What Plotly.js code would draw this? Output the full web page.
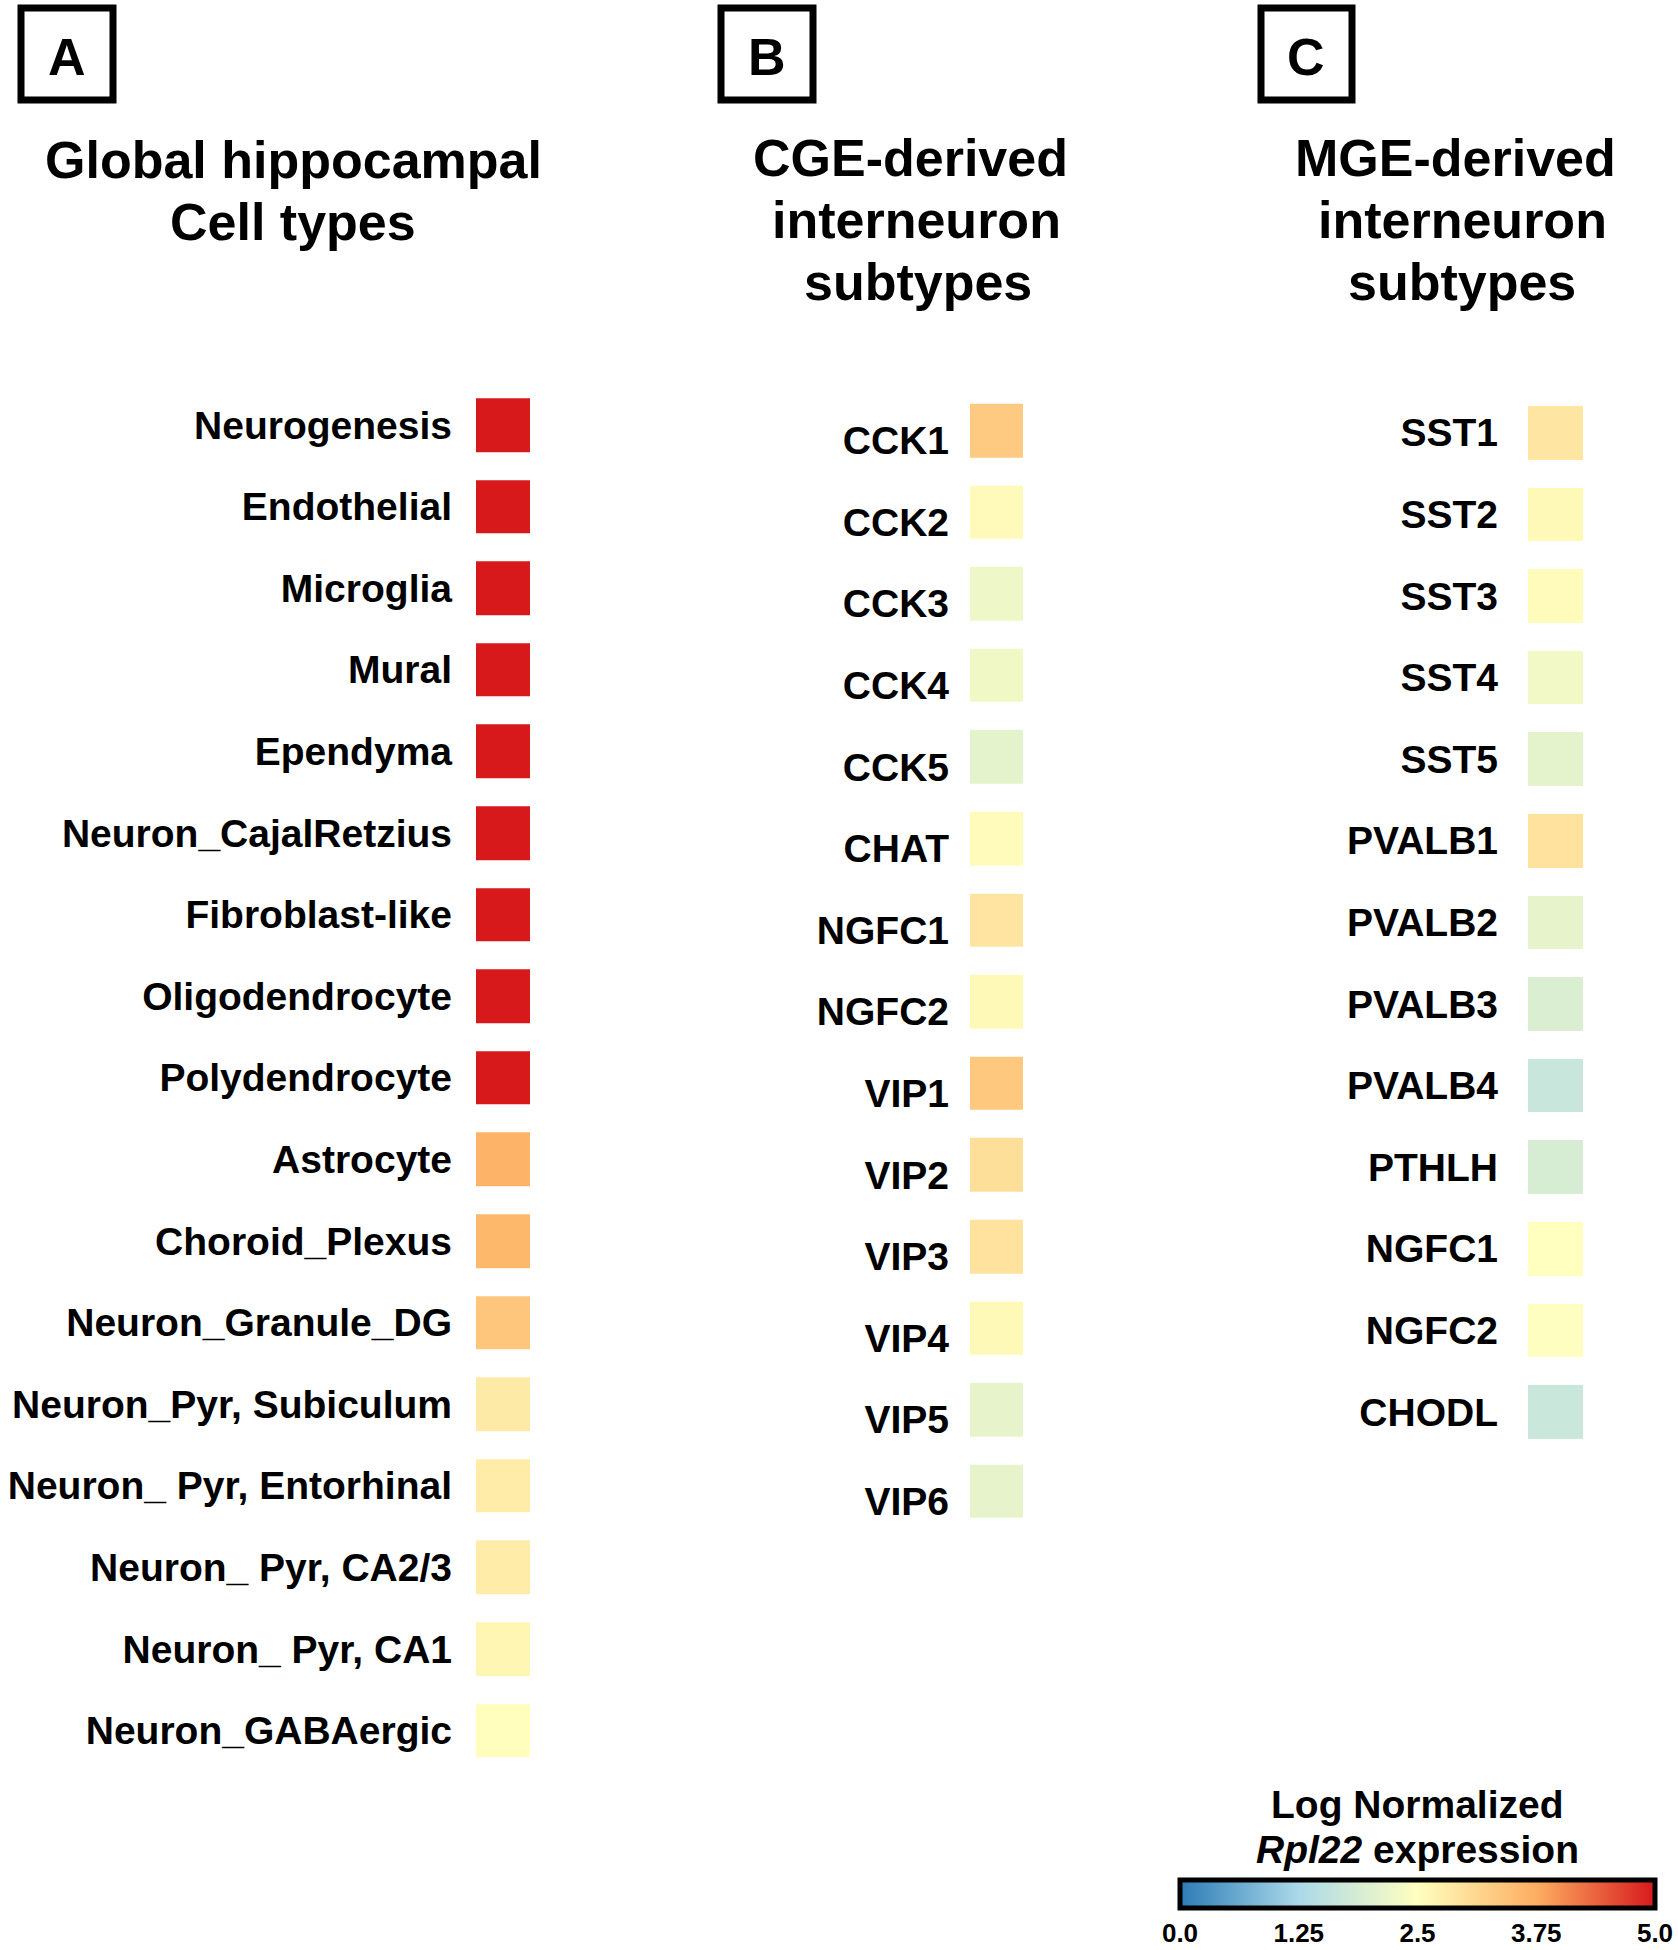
<!DOCTYPE html>
<html>
<head>
<meta charset="utf-8">
<script src="https://cdn.plot.ly/plotly-3.0.1.min.js"></script>
<style>html,body{margin:0;padding:0;background:#fff;}#chart{width:1678px;height:1950px;}</style>
</head>
<body>
<div id="chart"></div>
<script>
// ---- Data ----
const globalCellTypes = ["Neurogenesis","Endothelial","Microglia","Mural","Ependyma","Neuron_CajalRetzius",
  "Fibroblast-like","Oligodendrocyte","Polydendrocyte","Astrocyte","Choroid_Plexus","Neuron_Granule_DG",
  "Neuron_Pyr, Subiculum","Neuron_ Pyr, Entorhinal","Neuron_ Pyr, CA2/3","Neuron_ Pyr, CA1","Neuron_GABAergic"];
const globalValues = [5.0,5.0,5.0,5.0,5.0,5.0,5.0,5.0,5.0,3.66,3.6,3.39,2.82,2.8,2.8,2.64,2.52];

const cgeSubtypes = ["CCK1","CCK2","CCK3","CCK4","CCK5","CHAT","NGFC1","NGFC2","VIP1","VIP2","VIP3","VIP4","VIP5","VIP6"];
const cgeValues = [3.34,2.58,2.25,2.28,2.1,2.55,2.91,2.6,3.35,3.0,2.95,2.6,2.15,2.15];

const mgeSubtypes = ["SST1","SST2","SST3","SST4","SST5","PVALB1","PVALB2","PVALB3","PVALB4","PTHLH","NGFC1","NGFC2","CHODL"];
const mgeValues = [2.9,2.6,2.55,2.3,2.1,2.95,2.15,1.95,1.68,1.9,2.5,2.48,1.7];

const colorbarTicks = [0,1.25,2.5,3.75,5];
const colorbarTickText = ["0.0","1.25","2.5","3.75","5.0"];

// ---- Styling helpers ----
const W = 1678, H = 1950;
const FONT = "Liberation Sans, Arial, Helvetica, sans-serif";
const px = v => v / W;
const py = v => 1 - v / H;

const colorscale = [[0,"#2c7bb6"],[0.25,"#abd9e9"],[0.5,"#ffffbf"],[0.75,"#fdae61"],[1,"#d7191c"]];

function hm(labels, vals, xa, ya){
  return {
    type:"heatmap",
    z: vals.map(v=>[v]),
    x: ["v"],
    y: labels,
    xaxis: xa, yaxis: ya,
    coloraxis: "coloraxis",
    ygap: 28, xgap: 0,
    hoverinfo: "y+z"
  };
}

// panel geometry (pixels)
const pitch = 81.6;
function yDom(firstCenter, n){
  const top = firstCenter - pitch/2;
  const bottom = top + n*pitch;
  return [py(bottom), py(top)];
}

const data = [
  hm(globalCellTypes, globalValues, "x", "y"),
  hm(cgeSubtypes, cgeValues, "x2", "y2"),
  hm(mgeSubtypes, mgeValues, "x3", "y3")
];

function xAx(a,b,anchor){
  return {domain:[px(a),px(b)], anchor:anchor, visible:false, showgrid:false, zeroline:false, fixedrange:true};
}
function yAx(dom, anchor, standoff, shift){
  return {domain:dom, anchor:anchor, autorange:"reversed", showgrid:false, zeroline:false, showline:false,
    ticks:"", type:"category", fixedrange:true,
    ticklabelstandoff: standoff, ticklabelshift: shift,
    tickfont:{family:FONT, size:39, color:"#000", weight:"bold"}};
}

const annotations = [];
function addText(text, x, y, size, opts){
  annotations.push(Object.assign({
    text: text, x: px(x), y: py(y), xref:"paper", yref:"paper",
    xanchor:"center", yanchor:"middle", showarrow:false,
    font:{family:FONT, size:size, color:"#000", weight:"bold"}
  }, opts||{}));
}
// panel letters
addText("A", 67, 57, 52);
addText("B", 767, 57, 52);
addText("C", 1306, 57, 52);
// titles
addText("Global hippocampal", 293, 160, 52);
addText("Cell types", 293, 222, 52);
addText("CGE-derived", 910, 158, 52);
addText("interneuron", 917, 220, 52);
addText("subtypes", 918, 282, 52);
addText("MGE-derived", 1455, 158, 52);
addText("interneuron", 1462, 220, 52);
addText("subtypes", 1462, 282, 52);
// colorbar title
addText("Log Normalized", 1417, 1804, 39);
addText("<i>Rpl22</i> expression", 1417, 1849, 39);

const boxes = [[21,8,113,100],[721,8,813,100],[1261,8,1352,100]].map(b=>({
  type:"rect", xref:"paper", yref:"paper",
  x0:px(b[0]), x1:px(b[2]), y0:py(b[3]), y1:py(b[1]),
  line:{color:"#000", width:7}, fillcolor:"rgba(0,0,0,0)"
}));

const layout = {
  width: W, height: H,
  margin:{l:0,r:0,t:0,b:0,pad:0},
  paper_bgcolor:"#fff", plot_bgcolor:"#fff",
  showlegend:false,
  xaxis: xAx(476,530,"y"), yaxis: yAx(yDom(425,17), "x", 23, 0),
  xaxis2: xAx(970,1023,"y2"), yaxis2: yAx(yDom(430.5,14), "x2", 20, -10),
  xaxis3: xAx(1528,1583,"y3"), yaxis3: yAx(yDom(432.7,13), "x3", 29, 0),
  coloraxis:{
    cmin:0, cmax:5, colorscale: colorscale,
    colorbar:{
      orientation:"h", x:px(1417.5), xanchor:"center", xpad:0,
      y:py(1880), yanchor:"top", ypad:0,
      lenmode:"pixels", len:475, thickness:28,
      outlinewidth:5, outlinecolor:"#000",
      tickvals: colorbarTicks, ticktext: colorbarTickText,
      ticks:"", ticklen:0,
      tickfont:{family:FONT, size:26, color:"#000", weight:"bold"}
    }
  },
  annotations: annotations,
  shapes: boxes
};

Plotly.newPlot("chart", data, layout, {displayModeBar:false, staticPlot:true});
</script>
</body>
</html>
